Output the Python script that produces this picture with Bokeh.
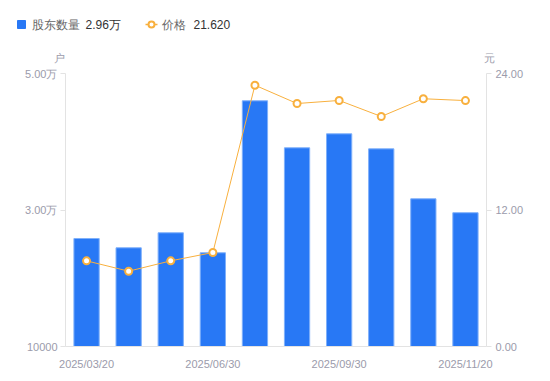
from bokeh.plotting import figure
from bokeh.models import Range1d, LinearAxis, FixedTicker
from bokeh.layouts import column
from bokeh.core.properties import value
from bokeh.embed import file_html
from bokeh.resources import INLINE

dates = ["2025/03/20", "2025/03/31", "2025/05/20", "2025/06/30", "2025/07/31",
         "2025/08/31", "2025/09/30", "2025/10/20", "2025/10/31", "2025/11/20"]
holders = [25820, 24460, 26660, 23730, 46000, 39110, 41160, 38960, 31640, 29600]
prices = [7.53, 6.62, 7.53, 8.26, 22.97, 21.36, 21.63, 20.22, 21.78, 21.62]
left_ticks = [10000, 30000, 50000]
left_labels = ["10000", "3.00万", "5.00万"]
right_ticks = [0, 12, 24]
right_labels = ["0.00", "12.00", "24.00"]
shown_idx = [0, 3, 6, 9]
series_names = ["股东数量", "价格"]
latest_values = ["2.96万", "21.620"]
units = ["户", "元"]

BLUE = "#2878F5"
ORANGE = "#F8B03E"
GRAY = "#9b9bab"
AXIS = "#e3e3e3"
FONT = "Liberation Sans"

W = 549
TOP_H = 65
MAIN_H = 315

# ---------- header strip (legend + unit titles) ----------
hd = figure(width=W, height=TOP_H, output_backend="svg", toolbar_location=None,
            x_range=Range1d(0, W), y_range=Range1d(TOP_H, 0), min_border=0)
hd.frame_align = False
hd.axis.visible = False
hd.grid.visible = False
hd.outline_line_color = None
hd.background_fill_color = "white"
hd.border_fill_color = "white"

hd.scatter(x=[21], y=[24], marker="square", size=8, fill_color=BLUE, line_color=BLUE)
hd.line(x=[145, 157], y=[24, 24], line_color=ORANGE, line_width=1.5)
hd.scatter(x=[151], y=[24], marker="circle", size=6, fill_color="white",
           line_color=ORANGE, line_width=2)
hd.text(x=[31, 161], y=[24, 24], text=series_names, text_align="left",
        text_baseline="middle", text_color="#666666", text_font=value(FONT),
        text_font_size="12px")
hd.text(x=[85, 193], y=[24, 24], text=latest_values, text_align="left",
        text_baseline="middle", text_color="#333333", text_font=value(FONT),
        text_font_size="12px")
hd.text(x=[59, 489], y=[57, 57], text=units, text_align="center",
        text_baseline="middle", text_color=GRAY, text_font=value(FONT),
        text_font_size="11px")

# ---------- main chart ----------
p = figure(width=W, height=MAIN_H, output_backend="svg", toolbar_location=None,
           x_range=Range1d(-0.5, 9.5), y_range=Range1d(10000, 50000),
           min_border_left=65, min_border_right=W - 486, min_border_top=8,
           min_border_bottom=MAIN_H - (346 - TOP_H))
p.frame_align = False
p.outline_line_color = None
p.grid.visible = False
p.background_fill_color = "white"
p.border_fill_color = "white"

p.extra_y_ranges = {"price": Range1d(0, 24)}

xs = list(range(len(dates)))
bars = p.vbar(x=xs, top=holders, bottom=10000, width=0.6, fill_color=BLUE,
              line_color="#7fb0fa", line_width=1)
ln = p.line(x=xs, y=prices, y_range_name="price", line_color=ORANGE, line_width=1)
sc = p.scatter(x=xs, y=prices, y_range_name="price", size=7, marker="circle",
               fill_color="white", line_color=ORANGE, line_width=2)

xa = p.xaxis[0]
xa.ticker = FixedTicker(ticks=shown_idx)
xa.major_label_overrides = {i: dates[i] for i in shown_idx}
xa.axis_line_color = AXIS
xa.major_tick_line_color = None
xa.minor_tick_line_color = None
xa.major_label_standoff = 5
xa.major_label_text_color = GRAY
xa.major_label_text_font = FONT
xa.major_label_text_font_size = "11px"

ya = p.yaxis[0]
ya.ticker = FixedTicker(ticks=left_ticks)
ya.major_label_overrides = {t: l for t, l in zip(left_ticks, left_labels)}
ya.axis_line_color = AXIS
ya.major_tick_line_color = AXIS
ya.major_tick_in = 0
ya.major_tick_out = 5
ya.minor_tick_line_color = None
ya.major_label_standoff = 3
ya.major_label_text_color = GRAY
ya.major_label_text_font = FONT
ya.major_label_text_font_size = "11px"

ra = LinearAxis(y_range_name="price", ticker=FixedTicker(ticks=right_ticks))
ra.major_label_overrides = {t: l for t, l in zip(right_ticks, right_labels)}
ra.axis_line_color = AXIS
ra.major_tick_line_color = AXIS
ra.major_tick_in = 0
ra.major_tick_out = 5
ra.minor_tick_line_color = None
ra.major_label_standoff = 4
ra.major_label_text_color = GRAY
ra.major_label_text_font = FONT
ra.major_label_text_font_size = "11px"
p.add_layout(ra, "right")

layout = column(hd, p, spacing=0)
open("out.html", "w").write(file_html(layout, INLINE))
